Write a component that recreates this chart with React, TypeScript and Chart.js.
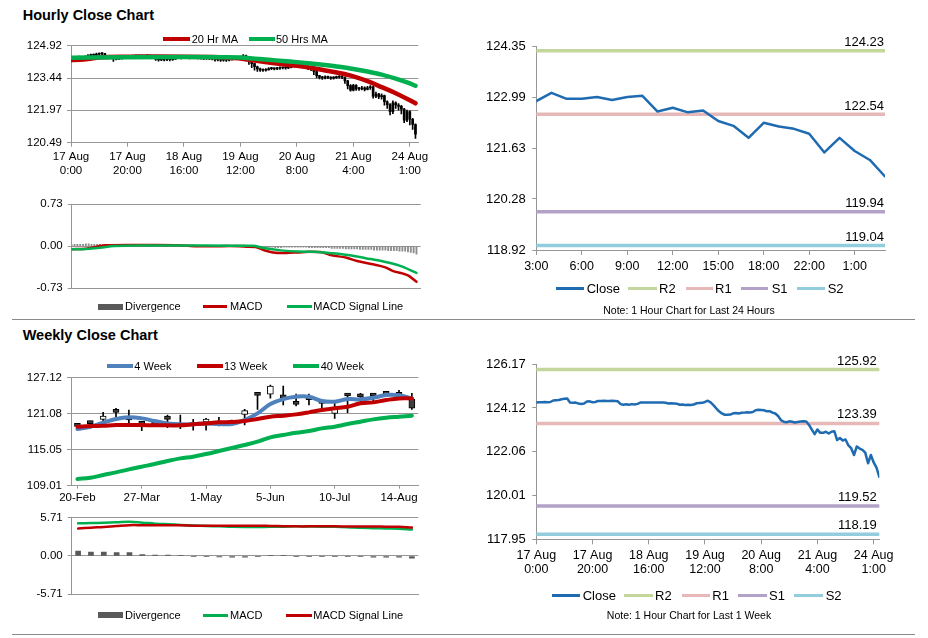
import React, { useEffect, useRef } from "react";
import { Chart, registerables } from "chart.js";
Chart.register(...registerables);

const FONT = "'Liberation Sans', Arial, Helvetica, sans-serif";
Chart.defaults.font.family = FONT;
Chart.defaults.color = "#000";

const GRID = "#969696";
const RED = "#c00000";
const GREEN = "#00b050";
const BLUE4 = "#4f81bd";
const CLOSE_BLUE = "#1f6bb2";
const LEVEL_COLORS = ["#c3d69b", "#e6b9b8", "#b3a2c7", "#93cddd"];

// ---------------- DATA ----------------
const hourTickIdx = [0, 20, 40, 60, 80, 100, 120];
const hourTickLabels = [["17 Aug", "0:00"], ["17 Aug", "20:00"], ["18 Aug", "16:00"], ["19 Aug", "12:00"], ["20 Aug", "8:00"], ["21 Aug", "4:00"], ["24 Aug", "1:00"]];
const hourPriceTicks = [120.49, 121.97, 123.44, 124.92];
const hourMacdTicks = [-0.73, 0, 0.73];

const hourClose = [
  124.38, 124.39, 124.39, 124.40, 124.39, 124.40, 124.47, 124.48, 124.49, 124.53,
  124.55, 124.56, 124.37, 124.36, 124.37, 124.33, 124.31, 124.33, 124.42, 124.43,
  124.39, 124.40, 124.45, 124.45, 124.46, 124.45, 124.45, 124.46, 124.45, 124.43,
  124.30, 124.27, 124.29, 124.27, 124.30, 124.28, 124.31, 124.37, 124.38, 124.37,
  124.38, 124.38, 124.37, 124.38, 124.38, 124.37, 124.36, 124.33, 124.34, 124.33,
  124.32, 124.27, 124.28, 124.26, 124.27, 124.26, 124.28, 124.34, 124.35, 124.36,
  124.40, 124.46, 124.38, 124.25, 124.10, 123.96, 123.86, 123.80, 123.80, 123.81,
  123.87, 123.88, 123.86, 123.89, 123.90, 123.92, 123.91, 123.93, 124.01, 124.03,
  124.02, 124.01, 123.96, 123.97, 123.90, 123.86, 123.74, 123.55, 123.47, 123.45,
  123.49, 123.47, 123.44, 123.46, 123.48, 123.50, 123.48, 123.32, 123.10, 122.89,
  123.11, 122.95, 122.95, 123.00, 122.92, 123.00, 123.03, 122.61, 122.71, 122.59,
  122.64, 122.36, 122.23, 121.91, 122.31, 122.21, 122.15, 122.02, 121.52, 121.91,
  121.56, 121.32, 120.88,
];
const hourHigh = [
  124.42, 124.44, 124.43, 124.45, 124.43, 124.46, 124.52, 124.54, 124.55, 124.58,
  124.60, 124.61, 124.57, 124.41, 124.42, 124.39, 124.37, 124.38, 124.46, 124.48,
  124.45, 124.44, 124.49, 124.50, 124.50, 124.49, 124.48, 124.51, 124.49, 124.48,
  124.44, 124.33, 124.34, 124.32, 124.35, 124.33, 124.36, 124.42, 124.42, 124.41,
  124.42, 124.43, 124.41, 124.42, 124.41, 124.41, 124.40, 124.39, 124.38, 124.37,
  124.37, 124.33, 124.32, 124.31, 124.31, 124.30, 124.33, 124.38, 124.39, 124.40,
  124.45, 124.52, 124.49, 124.40, 124.27, 124.12, 123.99, 123.90, 123.86, 123.88,
  123.92, 123.93, 123.91, 123.93, 123.95, 123.96, 123.95, 123.97, 124.06, 124.08,
  124.07, 124.05, 124.04, 124.01, 123.99, 123.93, 123.88, 123.76, 123.57, 123.52,
  123.54, 123.53, 123.50, 123.51, 123.53, 123.56, 123.54, 123.50, 123.34, 123.15,
  123.16, 123.14, 123.02, 123.06, 123.04, 123.07, 123.10, 123.06, 122.80, 122.74,
  122.72, 122.66, 122.40, 122.28, 122.40, 122.36, 122.28, 122.20, 122.06, 121.98,
  121.95, 121.60, 121.35,
];
const hourLow = [
  124.33, 124.35, 124.35, 124.36, 124.35, 124.36, 124.38, 124.44, 124.45, 124.47,
  124.49, 124.50, 124.33, 124.32, 124.33, 124.20, 124.27, 124.29, 124.31, 124.38,
  124.35, 124.36, 124.38, 124.40, 124.41, 124.41, 124.40, 124.41, 124.40, 124.38,
  124.25, 124.21, 124.24, 124.22, 124.24, 124.23, 124.25, 124.29, 124.33, 124.32,
  124.33, 124.33, 124.32, 124.33, 124.33, 124.32, 124.31, 124.28, 124.29, 124.28,
  124.27, 124.21, 124.22, 124.20, 124.21, 124.20, 124.22, 124.26, 124.30, 124.31,
  124.34, 124.37, 124.22, 124.06, 123.92, 123.80, 123.74, 123.74, 123.75, 123.76,
  123.80, 123.82, 123.81, 123.82, 123.84, 123.86, 123.85, 123.87, 123.90, 123.96,
  123.96, 123.94, 123.90, 123.89, 123.83, 123.78, 123.60, 123.45, 123.40, 123.38,
  123.40, 123.41, 123.38, 123.39, 123.42, 123.44, 123.41, 123.20, 122.95, 122.84,
  122.86, 122.88, 122.88, 122.90, 122.85, 122.90, 122.92, 122.52, 122.55, 122.50,
  122.48, 122.20, 122.05, 121.76, 121.82, 122.05, 121.98, 121.80, 121.40, 121.45,
  121.30, 121.10, 120.68,
];

const ma20Idx = [0, 3, 6, 10, 20, 30, 40, 50, 55, 60, 65, 70, 75, 80, 85, 90, 95, 100, 105, 110, 115, 120, 122];
const ma20Val = [124.27, 124.28, 124.31, 124.38, 124.42, 124.43, 124.42, 124.40, 124.38, 124.34, 124.24, 124.15, 124.07, 124.00, 123.91, 123.79, 123.67, 123.52, 123.30, 123.03, 122.75, 122.43, 122.29];
const ma50Idx = [0, 20, 40, 60, 65, 70, 75, 80, 85, 90, 95, 100, 105, 110, 115, 120, 122];
const ma50Val = [124.37, 124.39, 124.40, 124.38, 124.33, 124.28, 124.22, 124.17, 124.11, 124.04, 123.96, 123.86, 123.74, 123.60, 123.42, 123.20, 123.09];

const macdHIdx = [0, 5, 9, 12, 20, 30, 38, 42, 50, 56, 62, 65, 68, 72, 76, 80, 84, 88, 92, 97, 101, 106, 111, 114, 117, 119, 122];
const macdHVal = [-0.055, -0.045, -0.01, 0.015, 0.02, 0.02, 0.015, 0.0, -0.005, 0.0, -0.01, -0.015, -0.07, -0.115, -0.12, -0.11, -0.1, -0.105, -0.16, -0.2, -0.26, -0.31, -0.37, -0.44, -0.475, -0.51, -0.62];
const sigHIdx = [0, 5, 10, 15, 25, 40, 55, 64, 68, 74, 80, 86, 92, 99, 104, 110, 116, 122];
const sigHVal = [-0.055, -0.05, -0.03, 0.0, 0.01, 0.01, 0.005, 0.005, -0.035, -0.075, -0.095, -0.1, -0.125, -0.165, -0.21, -0.265, -0.34, -0.465];
const divH = [
  0.02, 0.03, 0.03, 0.03, 0.03, 0.04, 0.04, 0.03, 0.03, 0.03,
  0.03, 0.02, 0.02, 0.03, 0.02, 0.02, 0.02, 0.02, 0.01, 0.01,
  0.01, 0.01, 0.01, 0.01, 0.02, 0.02, 0.01, 0.01, 0.01, 0.01,
  0.01, 0.01, 0.01, 0.01, 0.01, 0.01, 0.01, 0.01, 0.01, 0.01,
  0.01, 0.01, 0.02, 0.02, 0.01, 0.01, 0.01, 0.01, 0.01, 0.01,
  0.01, 0.01, 0.01, 0.02, 0.02, 0.02, 0.01, 0.01, 0.02, 0.02,
  0.02, 0.02, 0.01, 0.01, -0.01, -0.01, -0.02, -0.02, -0.02, -0.02,
  -0.02, -0.02, -0.03, -0.03, -0.03, -0.02, -0.02, -0.02, -0.02, -0.02,
  -0.02, -0.02, -0.02, -0.02, -0.03, -0.03, -0.03, -0.03, -0.03, -0.03,
  -0.03, -0.03, -0.04, -0.04, -0.04, -0.04, -0.04, -0.05, -0.05, -0.05,
  -0.05, -0.05, -0.06, -0.06, -0.06, -0.06, -0.06, -0.07, -0.07, -0.07,
  -0.07, -0.07, -0.08, -0.08, -0.08, -0.08, -0.09, -0.09, -0.09, -0.1,
  -0.11, -0.12, -0.14,
];

const dayLabels = ["3:00", "4:00", "5:00", "6:00", "7:00", "8:00", "9:00", "10:00", "11:00", "12:00", "13:00", "14:00", "15:00", "16:00", "17:00", "18:00", "19:00", "20:00", "22:00", "23:00", "0:00", "1:00", "2:00", "3:00"];
const dayTickIdx = [0, 3, 6, 9, 12, 15, 18, 21];
const dayClose = [122.89, 123.11, 122.95, 122.95, 123.00, 122.92, 123.00, 123.03, 122.61, 122.71, 122.59, 122.64, 122.36, 122.23, 121.91, 122.31, 122.21, 122.15, 122.02, 121.52, 121.91, 121.56, 121.32, 120.88];
const dayPriceTicks = [118.92, 120.28, 121.63, 122.99, 124.35];
const levelNames = ["R2", "R1", "S1", "S2"];
const dayLevels = [124.23, 122.54, 119.94, 119.04];
const weekLevels = [125.92, 123.39, 119.52, 118.19];
const lastWeekTicks = [117.95, 120.01, 122.06, 124.12, 126.17];

const weekTickIdx = [0, 5, 10, 15, 20, 25];
const weekTickLabels = ["20-Feb", "27-Mar", "1-May", "5-Jun", "10-Jul", "14-Aug"];
const weekPriceTicks = [109.01, 115.05, 121.08, 127.12];
const weekOpen = [119.05, 119.63, 120.13, 121.53, 120.47, 119.40, 119.46, 120.69, 118.95, 119.18, 119.69, 119.45, 119.50, 120.98, 124.25, 124.34, 123.80, 123.10, 123.50, 122.88, 121.15, 124.15, 123.98, 124.15, 124.60, 124.22, 123.50];
const weekHigh = [119.18, 119.85, 121.31, 121.98, 121.70, 119.74, 119.74, 120.86, 120.86, 120.13, 120.30, 120.47, 120.02, 121.82, 124.25, 125.90, 125.73, 124.39, 124.39, 123.28, 122.83, 124.15, 124.50, 124.50, 124.77, 125.00, 124.50];
const weekLow = [118.79, 118.62, 119.74, 120.58, 119.18, 118.23, 118.90, 118.74, 118.57, 118.34, 118.34, 119.02, 119.13, 119.19, 121.79, 123.67, 122.54, 122.37, 122.54, 121.82, 120.31, 121.26, 123.10, 123.10, 123.93, 123.93, 121.80];
const weekClose = [118.97, 119.41, 120.69, 121.31, 120.02, 119.30, 119.13, 120.13, 118.85, 119.08, 120.13, 119.35, 119.45, 121.59, 124.15, 125.73, 123.75, 122.66, 123.45, 122.80, 121.82, 124.05, 123.90, 124.05, 124.33, 124.15, 121.99];
const ma4 = [118.51, 118.90, 119.57, 120.19, 120.47, 120.30, 119.85, 119.46, 119.30, 119.30, 119.46, 119.35, 119.35, 120.02, 121.14, 122.70, 123.54, 123.93, 123.93, 123.21, 123.10, 123.54, 123.49, 123.77, 124.21, 124.16, 123.65];
const ma13 = [118.90, 119.01, 119.07, 119.18, 119.18, 119.18, 119.13, 119.13, 119.13, 119.30, 119.46, 119.63, 119.69, 119.85, 120.19, 120.58, 120.75, 120.97, 121.31, 121.70, 121.98, 122.26, 122.82, 122.98, 123.37, 123.65, 123.65];
const ma40 = [110.13, 110.35, 110.80, 111.25, 111.75, 112.20, 112.64, 113.15, 113.59, 113.87, 114.32, 114.82, 115.33, 115.83, 116.39, 117.12, 117.51, 117.90, 118.18, 118.62, 118.90, 119.35, 119.74, 120.13, 120.41, 120.58, 120.75];
const weekMacdTicks = [-5.71, 0, 5.71];
const macdW = [4.89, 4.94, 4.98, 5.05, 5.12, 5.0, 4.85, 4.75, 4.66, 4.58, 4.5, 4.45, 4.38, 4.35, 4.35, 4.38, 4.4, 4.44, 4.42, 4.4, 4.38, 4.32, 4.22, 4.17, 4.12, 4.08, 3.99];
const signalW = [4.12, 4.25, 4.35, 4.5, 4.62, 4.62, 4.62, 4.62, 4.6, 4.55, 4.53, 4.53, 4.53, 4.53, 4.55, 4.5, 4.46, 4.44, 4.44, 4.44, 4.44, 4.43, 4.42, 4.42, 4.4, 4.38, 4.26];
const divW = [0.73, 0.59, 0.59, 0.5, 0.5, 0.23, 0.14, 0.14, 0.09, -0.05, -0.05, -0.14, -0.18, -0.18, -0.05, 0.09, 0.09, -0.05, -0.05, -0.05, -0.05, -0.09, -0.09, -0.18, -0.18, -0.18, -0.32];

// ---------------- HELPERS ----------------
type Lay = { padTop: number; padRight: number; yWidth: number; xHeight: number };

function pts(xs: number[], ys: number[]) {
  return xs.map((x, i) => ({ x, y: ys[i] }));
}
function seq(ys: number[]) {
  return ys.map((y, i) => ({ x: i, y }));
}

// smooth: 0 = straight, 1 = monotone, 2 = catmull-like tension
function lineDS(label: string, data: any[], color: string, width: number, order: number, smooth: number) {
  const ds: any = {
    type: "line", label, data, borderColor: color, backgroundColor: color,
    borderWidth: width, pointRadius: 0, fill: false, order,
    borderJoinStyle: "round", borderCapStyle: "round",
  };
  if (smooth === 1) ds.cubicInterpolationMode = "monotone";
  else if (smooth === 2) ds.tension = 0.4;
  else ds.tension = 0;
  return ds;
}

function xLinear(lay: Lay, min: number, max: number, tickIdx: number[], labelFor: (v: number) => any, o: any) {
  return {
    type: "linear", min, max, offset: false,
    afterBuildTicks: (s: any) => { s.ticks = tickIdx.map((v) => ({ value: v })); },
    afterFit: (s: any) => { s.height = lay.xHeight; },
    ticks: {
      display: o.show !== false, autoSkip: false, maxRotation: 0, minRotation: 0,
      font: { size: o.size || 11.5, lineHeight: o.lh || 1.2 }, padding: o.pad || 3, color: "#000",
      callback: (v: any) => labelFor(Number(v)),
    },
    grid: { display: true, drawOnChartArea: false, drawTicks: (o.tl || 0) > 0, tickLength: o.tl || 0, color: GRID, offset: false },
    border: { display: true, color: GRID, width: 1 },
  };
}

function yLinear(lay: Lay, min: number, max: number, tickVals: number[], o: any) {
  return {
    type: "linear", min, max,
    afterBuildTicks: (s: any) => { s.ticks = tickVals.map((v) => ({ value: v })); },
    afterFit: (s: any) => { s.width = lay.yWidth; },
    ticks: { font: { size: o.size || 11.5 }, padding: o.pad || 5, color: "#000", callback: (v: any) => Number(v).toFixed(2) },
    grid: { display: true, drawOnChartArea: !!o.grid, drawTicks: true, tickLength: o.tl || 4, color: GRID },
    border: { display: true, color: GRID, width: 1 },
  };
}

function baseOptions(lay: Lay, x: any, y: any) {
  return {
    animation: false, responsive: false, maintainAspectRatio: false, events: [], devicePixelRatio: 1,
    layout: { padding: { top: lay.padTop, right: lay.padRight, left: 0, bottom: 0 } },
    plugins: { legend: { display: false }, tooltip: { enabled: false }, title: { display: false } },
    scales: { x, y },
  };
}

function levelLabelPlugin(values: number[], dy: number, inset: number) {
  return {
    id: "levelLabels",
    afterDatasetsDraw(chart: any) {
      const { ctx, chartArea, scales } = chart;
      ctx.save();
      ctx.font = `13px ${FONT}`;
      ctx.fillStyle = "#000";
      ctx.textAlign = "right";
      ctx.textBaseline = "alphabetic";
      values.forEach((v) => ctx.fillText(v.toFixed(2), chartArea.right - inset, scales.y.getPixelForValue(v) - dy));
      ctx.restore();
    },
  };
}

// ---------------- CHART BUILDERS ----------------
function makeHourPrice(lay: Lay) {
  return {
    type: "bar",
    data: {
      datasets: [
        lineDS("50 Hrs MA", pts(ma50Idx, ma50Val), GREEN, 4.5, 1, 1),
        lineDS("20 Hr MA", pts(ma20Idx, ma20Val), RED, 4.5, 2, 1),
        {
          type: "bar", label: "Body", order: 3, grouped: false, barThickness: 2, minBarLength: 1,
          data: hourClose.map((c, i) => ({ x: i, y: [i === 0 ? c : hourClose[i - 1], c] })),
          backgroundColor: "#000",
        },
        {
          type: "bar", label: "Range", order: 4, grouped: false, barThickness: 1,
          data: hourHigh.map((h, i) => ({ x: i, y: [hourLow[i], h] })),
          backgroundColor: "#000",
        },
      ],
    },
    options: baseOptions(
      lay,
      xLinear(lay, 0, 123, hourTickIdx, (v) => hourTickLabels[hourTickIdx.indexOf(v)] || "", { size: 11.5, lh: 1.16, pad: 3.7, tl: 4 }),
      yLinear(lay, 120.49, 124.92, hourPriceTicks, { size: 11.5, pad: 5, tl: 4, grid: true })
    ),
  };
}

function makeHourMacd(lay: Lay) {
  return {
    type: "bar",
    data: {
      datasets: [
        lineDS("MACD Signal Line", pts(sigHIdx, sigHVal), GREEN, 2.5, 1, 1),
        lineDS("MACD", pts(macdHIdx, macdHVal), RED, 2.5, 2, 1),
        { type: "bar", label: "Divergence", order: 3, grouped: false, barThickness: 1.2, data: seq(divH), backgroundColor: "#8c8c8c" },
      ],
    },
    options: baseOptions(
      lay,
      xLinear(lay, 0, 123.5, [], () => "", { show: false, tl: 0 }),
      yLinear(lay, -0.73, 0.73, hourMacdTicks, { size: 11.5, pad: 5, tl: 4, grid: true })
    ),
  };
}

function levelSets(values: number[], xMax: number) {
  return values.map((v, i) =>
    lineDS(levelNames[i], [{ x: 0, y: v }, { x: xMax, y: v }], LEVEL_COLORS[i], 3.5, 2 + i, 0)
  );
}

function makeDay(lay: Lay) {
  return {
    type: "line",
    data: {
      datasets: [lineDS("Close", seq(dayClose), CLOSE_BLUE, 2.5, 1, 0), ...levelSets(dayLevels, 23)],
    },
    options: baseOptions(
      lay,
      xLinear(lay, 0, 23, dayTickIdx, (v) => dayLabels[v] || "", { size: 12.5, lh: 1.2, pad: 4, tl: 5 }),
      yLinear(lay, 118.92, 124.35, dayPriceTicks, { size: 13, pad: 6.5, tl: 4, grid: false })
    ),
    plugins: [levelLabelPlugin(dayLevels, 4.5, 1)],
  };
}

function makeWeekPrice(lay: Lay) {
  return {
    type: "bar",
    data: {
      datasets: [
        lineDS("40 Week", seq(ma40), GREEN, 4, 1, 2),
        lineDS("13 Week", seq(ma13), RED, 4, 2, 2),
        lineDS("4 Week", seq(ma4), BLUE4, 4, 3, 2),
        {
          type: "bar", label: "Body", order: 4, grouped: false, barThickness: 6, minBarLength: 3,
          data: weekOpen.map((o, i) => ({ x: i, y: [o, weekClose[i]] })),
          backgroundColor: weekOpen.map((o, i) => (weekClose[i] >= o ? "#ffffff" : "#3f3f3f")),
          borderColor: "#000", borderWidth: 1, borderSkipped: false,
        },
        {
          type: "bar", label: "Range", order: 5, grouped: false, barThickness: 1,
          data: weekHigh.map((h, i) => ({ x: i, y: [weekLow[i], h] })),
          backgroundColor: "#000",
        },
      ],
    },
    options: baseOptions(
      lay,
      xLinear(lay, -0.5, 26.5, weekTickIdx, (v) => weekTickLabels[weekTickIdx.indexOf(v)] || "", { size: 11.5, lh: 1.2, pad: 2.7, tl: 3 }),
      yLinear(lay, 109.01, 127.12, weekPriceTicks, { size: 11.5, pad: 5, tl: 4, grid: true })
    ),
  };
}

function makeWeekMacd(lay: Lay) {
  return {
    type: "bar",
    data: {
      datasets: [
        lineDS("MACD Signal Line", seq(signalW), RED, 2.5, 1, 2),
        lineDS("MACD", seq(macdW), GREEN, 2.5, 2, 2),
        { type: "bar", label: "Divergence", order: 3, grouped: false, barThickness: 5, data: seq(divW), backgroundColor: "#595959" },
      ],
    },
    options: baseOptions(
      lay,
      xLinear(lay, -0.5, 26.5, [], () => "", { show: false, tl: 0 }),
      yLinear(lay, -5.71, 5.71, weekMacdTicks, { size: 11.5, pad: 5, tl: 4, grid: true })
    ),
  };
}

function makeLastWeek(lay: Lay) {
  return {
    type: "line",
    data: {
      datasets: [lineDS("Close", seq(hourClose), CLOSE_BLUE, 2.5, 1, 0), ...levelSets(weekLevels, 122)],
    },
    options: baseOptions(
      lay,
      xLinear(lay, 0, 122, hourTickIdx, (v) => hourTickLabels[hourTickIdx.indexOf(v)] || "", { size: 12.5, lh: 1.07, pad: 5, tl: 5 }),
      yLinear(lay, 117.95, 126.17, lastWeekTicks, { size: 13, pad: 6.5, tl: 4, grid: false })
    ),
    plugins: [levelLabelPlugin(weekLevels, 5, 2.6)],
  };
}

// ---------------- COMPONENTS ----------------
type Box = { left: number; top: number; width: number; height: number };
type Area = { l: number; t: number; r: number; b: number };

function ChartBox({ box, area, make }: { box: Box; area: Area; make: (l: Lay) => any }) {
  const ref = useRef<HTMLCanvasElement>(null);
  useEffect(() => {
    const lay: Lay = {
      padTop: area.t - box.top,
      padRight: box.left + box.width - area.r,
      yWidth: area.l - box.left,
      xHeight: box.top + box.height - area.b,
    };
    const chart = new Chart(ref.current as HTMLCanvasElement, make(lay));
    return () => chart.destroy();
  }, []);
  return (
    <canvas
      ref={ref}
      width={box.width}
      height={box.height}
      style={{ position: "absolute", left: box.left, top: box.top, width: box.width, height: box.height }}
    />
  );
}

function T({ x, y, size, bold, align, children }: any) {
  const style: any = {
    position: "absolute", left: x, top: y - 0.8465 * size, fontSize: size, lineHeight: `${size}px`,
    fontFamily: FONT, fontWeight: bold ? 700 : 400, whiteSpace: "nowrap", color: "#000",
  };
  if (align === "center") style.transform = "translateX(-50%)";
  if (align === "right") style.transform = "translateX(-100%)";
  return <div style={style}>{children}</div>;
}

function Leg({ x1, x2, y, h, color, tx, size, label }: any) {
  return (
    <>
      <div style={{ position: "absolute", left: x1, top: y - h / 2, width: x2 - x1, height: h, background: color }} />
      <T x={tx} y={y + size * 0.358} size={size}>{label}</T>
    </>
  );
}

function HLine({ x1, x2, y }: any) {
  return <div style={{ position: "absolute", left: x1, top: y, width: x2 - x1, height: 1, background: "#8a8a8a" }} />;
}

export default function App() {
  return (
    <div style={{ position: "absolute", left: 0, top: 0, width: 928, height: 638, background: "#fff", overflow: "hidden", fontFamily: FONT }}>
      <ChartBox box={{ left: 0, top: 30, width: 440, height: 152 }} area={{ l: 71, t: 45.7, r: 418.3, b: 142.7 }} make={makeHourPrice} />
      <ChartBox box={{ left: 0, top: 190, width: 440, height: 110 }} area={{ l: 71.7, t: 204, r: 420.7, b: 292.3 }} make={makeHourMacd} />
      <ChartBox box={{ left: 460, top: 25, width: 468, height: 260 }} area={{ l: 536.3, t: 46.3, r: 885, b: 250 }} make={makeDay} />
      <ChartBox box={{ left: 0, top: 360, width: 440, height: 146 }} area={{ l: 71, t: 377.7, r: 418.3, b: 485.7 }} make={makeWeekPrice} />
      <ChartBox box={{ left: 0, top: 506, width: 440, height: 100 }} area={{ l: 71.7, t: 514, r: 418.3, b: 598.3 }} make={makeWeekMacd} />
      <ChartBox box={{ left: 460, top: 345, width: 468, height: 240 }} area={{ l: 536.3, t: 364.3, r: 879.3, b: 539.3 }} make={makeLastWeek} />

      <T x={22.7} y={20.7} size={14.5} bold>Hourly Close Chart</T>
      <T x={22.7} y={340.7} size={14.5} bold>Weekly Close Chart</T>

      <Leg x1={163} x2={190} y={39} h={4.5} color={RED} tx={191.7} size={11} label="20 Hr MA" />
      <Leg x1={249} x2={275} y={39} h={4.5} color={GREEN} tx={276} size={11} label="50 Hrs MA" />

      <Leg x1={98} x2={122.7} y={306.7} h={6} color="#595959" tx={125} size={11} label="Divergence" />
      <Leg x1={203} x2={227} y={306.7} h={3} color={RED} tx={230} size={11} label="MACD" />
      <Leg x1={287} x2={312} y={306.7} h={3} color={GREEN} tx={313.3} size={11} label="MACD Signal Line" />

      <Leg x1={556} x2={584} y={288.3} h={3.5} color={CLOSE_BLUE} tx={586.7} size={13} label="Close" />
      <Leg x1={628} x2={657} y={288.3} h={3.5} color={LEVEL_COLORS[0]} tx={659} size={13} label={levelNames[0]} />
      <Leg x1={686} x2={713} y={288.3} h={3.5} color={LEVEL_COLORS[1]} tx={715} size={13} label={levelNames[1]} />
      <Leg x1={741} x2={768} y={288.3} h={3.5} color={LEVEL_COLORS[2]} tx={771.7} size={13} label={levelNames[2]} />
      <Leg x1={797} x2={825} y={288.3} h={3.5} color={LEVEL_COLORS[3]} tx={827.7} size={13} label={levelNames[3]} />
      <T x={689} y={313.8} size={10.5} align="center">Note: 1 Hour Chart for Last 24 Hours</T>

      <Leg x1={107} x2={133} y={366} h={4.5} color={BLUE4} tx={134.3} size={11} label="4 Week" />
      <Leg x1={197} x2={223} y={366} h={4.5} color={RED} tx={224} size={11} label="13 Week" />
      <Leg x1={293} x2={319} y={366} h={4.5} color={GREEN} tx={320.7} size={11} label="40 Week" />

      <Leg x1={98} x2={122.7} y={615} h={6} color="#595959" tx={125} size={11} label="Divergence" />
      <Leg x1={203} x2={228} y={615} h={3} color={GREEN} tx={230} size={11} label="MACD" />
      <Leg x1={286} x2={312} y={615} h={3} color={RED} tx={313.3} size={11} label="MACD Signal Line" />

      <Leg x1={551.7} x2={580} y={595.7} h={3.5} color={CLOSE_BLUE} tx={582.7} size={13} label="Close" />
      <Leg x1={624} x2={653} y={595.7} h={3.5} color={LEVEL_COLORS[0]} tx={655} size={13} label={levelNames[0]} />
      <Leg x1={681.7} x2={710} y={595.7} h={3.5} color={LEVEL_COLORS[1]} tx={712.3} size={13} label={levelNames[1]} />
      <Leg x1={738} x2={767} y={595.7} h={3.5} color={LEVEL_COLORS[2]} tx={769} size={13} label={levelNames[2]} />
      <Leg x1={794} x2={823} y={595.7} h={3.5} color={LEVEL_COLORS[3]} tx={825.7} size={13} label={levelNames[3]} />
      <T x={689} y={618.8} size={10.5} align="center">Note: 1 Hour Chart for Last 1 Week</T>

      <HLine x1={12} x2={915} y={319} />
      <HLine x1={12} x2={915} y={634} />
    </div>
  );
}
